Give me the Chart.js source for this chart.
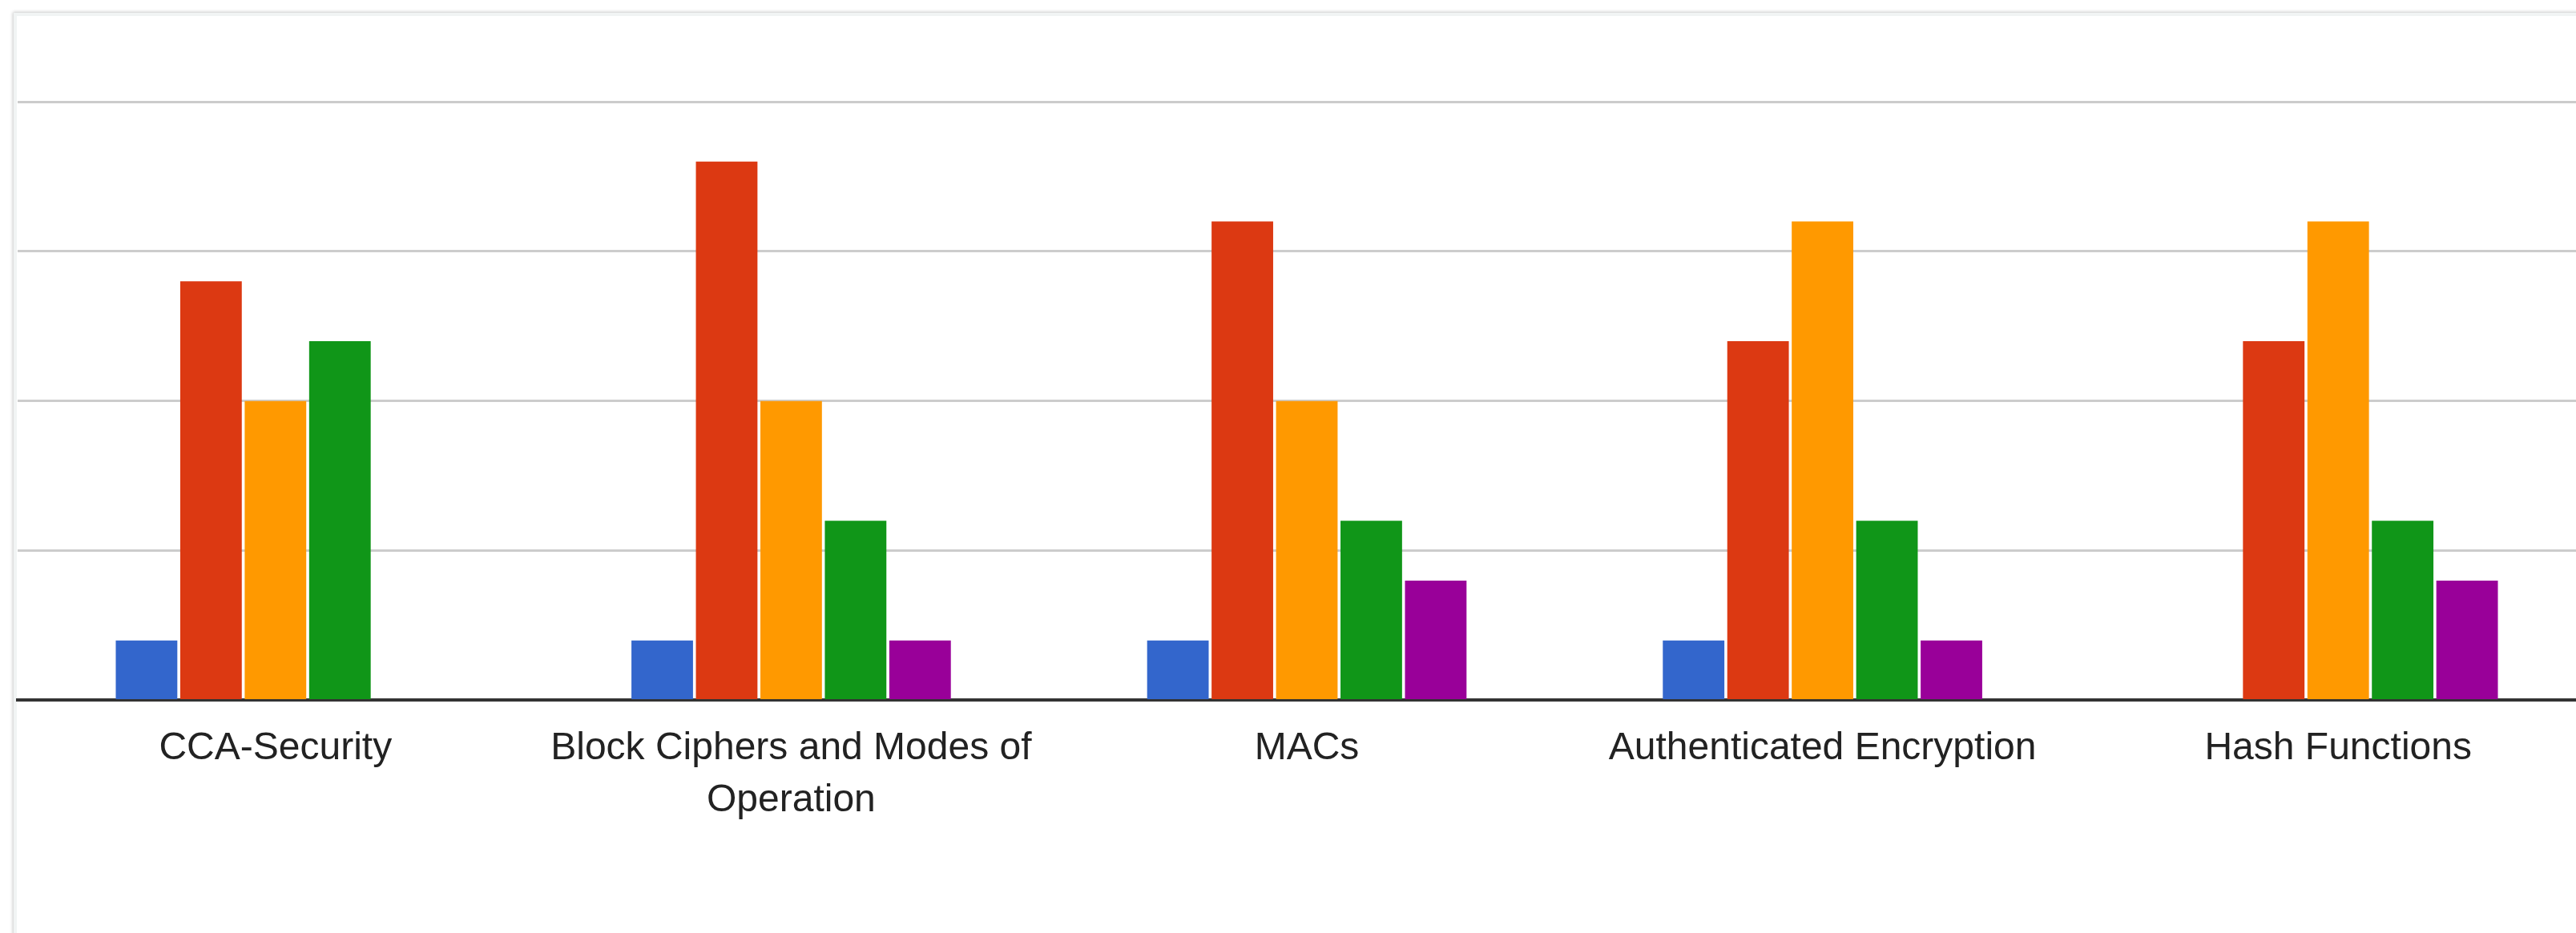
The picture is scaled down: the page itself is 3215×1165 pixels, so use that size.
<!DOCTYPE html>
<html>
<head>
<meta charset="utf-8">
<script src="https://cdn.jsdelivr.net/npm/chart.js@4/dist/chart.umd.min.js"></script>
<style>
  html, body { margin: 0; padding: 0; background: #fff; overflow: hidden; width: 3215px; height: 1165px; }
  .panel { position: absolute; left: 17px; top: 16px; width: 3300px; height: 1300px;
           border: 4px solid #f1f4f4; box-shadow: -1px -1px 4px rgba(0,0,0,0.22); background: #fff; }
  .wrap { position: absolute; left: 0; top: 0; width: 3240px; height: 1165px; }
</style>
</head>
<body>
<div class="panel"></div>
<div class="wrap"><canvas id="chart"></canvas></div>
<script>
const categories = [
  'CCA-Security',
  ['Block Ciphers and Modes of', 'Operation'],
  'MACs',
  'Authenticated Encryption',
  'Hash Functions'
];
const blueVals   = [1, 1, 1, 1, null];
const redVals    = [7, 9, 8, 6, 6];
const orangeVals = [5, 5, 5, 8, 8];
const greenVals  = [6, 3, 3, 3, 3];
const purpleVals = [null, 1, 2, 1, 2];
const yTicks = [0, 2.5, 5, 7.5, 10];

const ff = '"Liberation Sans", Arial, sans-serif';
const bar = (label, data, color) => ({ label, data, backgroundColor: color, borderWidth: 0, categoryPercentage: 0.625, barPercentage: 0.955 });

new Chart(document.getElementById('chart'), {
  type: 'bar',
  data: {
    labels: categories,
    datasets: [
      bar('Series 1', blueVals, '#3366cc'),
      bar('Series 2', redVals, '#dc3912'),
      bar('Series 3', orangeVals, '#ff9900'),
      bar('Series 4', greenVals, '#109618'),
      bar('Series 5', purpleVals, '#990099')
    ]
  },
  options: {
    responsive: true, maintainAspectRatio: false, animation: false,
    layout: { padding: { left: 22, right: 0, top: 127, bottom: 113 } },
    plugins: { legend: { display: false }, tooltip: { enabled: false } },
    scales: {
      x: {
        grid: { display: false },
        border: { display: true, color: '#333333', width: 4 },
        ticks: { font: { size: 48, family: ff, lineHeight: 1.35 }, color: '#222222', padding: 20, maxRotation: 0, autoSkip: false }
      },
      y: {
        min: 0, max: 10,
        afterBuildTicks: s => { s.ticks = yTicks.map(v => ({ value: v })); },
        grid: { color: c => c.tick.value === 0 ? 'rgba(0,0,0,0)' : '#cccccc', lineWidth: 3, drawTicks: false },
        border: { display: false },
        ticks: { display: false }
      }
    }
  }
});
</script>
</body>
</html>
